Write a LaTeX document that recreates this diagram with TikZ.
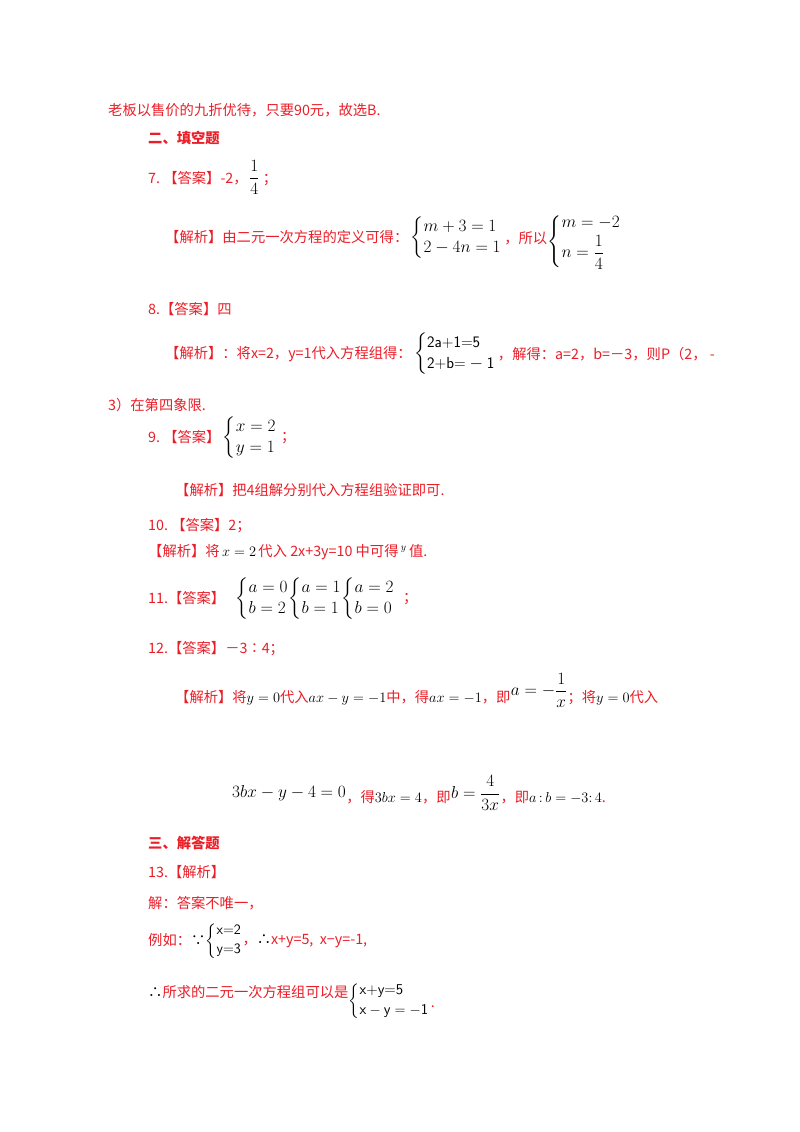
\documentclass[tikz,border=0pt]{standalone}
\usepackage{amsmath}
\usepackage{fontspec}
\setmainfont{Noto Sans CJK SC}
\usetikzlibrary{positioning}
\definecolor{ansred}{RGB}{235,30,40}
\newcommand{\sys}[2]{\left\{\begin{array}{@{}l@{}}#1\\[2pt] #2\end{array}\right.}
\tikzset{x=1pt, y=-1pt}
\tikzset{ln/.style={anchor=base west,inner sep=0pt,text=ansred,font=\fontsize{14.3}{17}\selectfont}}
\tikzset{mth/.style={anchor=base west,inner sep=0pt,text=black,font=\fontsize{16}{19}\selectfont}}
\begin{document}
\begin{tikzpicture}
\useasboundingbox[fill=white] (0,0) rectangle (800,1132);
\node[ln] (l1) at (108,115) {老板以售价的九折优待，只要90元，故选B.};
\node[ln,font=\fontsize{14.3}{17}\bfseries] (s2) at (148,143) {二、填空题};
% 7
\node[ln] (q7) at (148,183) {7.\ 【答案】-2，};
\node[mth,right=1pt of q7.base east,anchor=base west] (f7) {$\dfrac{1}{4}$};
\node[ln,right=3pt of f7.base east,anchor=base west] {；};
\node[ln] (j7) at (165,242) {【解析】由二元一次方程的定义可得：};
\node[mth,right=2pt of j7.base east,anchor=west,yshift=4pt] (c7a) {$\sys{m+3=1}{2-4n=1}$};
\node[ln,right=2pt of c7a.east,anchor=west] (s7) {，所以};
\node[mth,right=0pt of s7.east,anchor=west,yshift=-4pt] {$\sys{m=-2}{n=\dfrac{1}{4}}$};
% 8
\node[ln] (q8) at (148,314) {8.【答案】四};
\node[ln] (j8) at (165,358) {【解析】：将x=2，y=1代入方程组得：};
\node[mth,right=2pt of j8.base east,anchor=west,yshift=4pt,font=\fontsize{16}{19}\sffamily] (c8) {$\sys{\text{2a+1=5}}{\text{2+b=}-\text{1}}$};
\node[ln,right=2pt of c8.east,anchor=west] {，解得：a=2，b=－3，则P（2，\ -};
\node[ln] (l8b) at (108,410) {3）在第四象限.};
% 9
\node[ln] (q9) at (148,442) {9.\ 【答案】};
\node[mth,right=2pt of q9.base east,anchor=west,yshift=4pt] (c9) {$\sys{x=2}{y=1}$};
\node[ln,right=4pt of c9.east,anchor=west] {；};
\node[ln] (j9) at (175,495) {【解析】把4组解分别代入方程组验证即可.};
% 10
\node[ln] (q10) at (148,530) {10.\ 【答案】2；};
\node[ln] (j10) at (148,556) {【解析】将\,\textcolor{black}{$x=2$}\,代入 2x+3y=10 中可得\,\textcolor{black}{$^{y}$}\,值.};
% 11
\node[ln] (q11) at (148,603) {11.【答案】};
\node[mth,right=10pt of q11.base east,anchor=west,yshift=4pt] (c11) {$\sys{a=0}{b=2}\!\sys{a=1}{b=1}\!\sys{a=2}{b=0}$};
\node[ln,right=8pt of c11.east,anchor=west] {；};
% 12
\node[ln] (q12) at (148,653) {12.【答案】－3∶4；};
\node[ln] (j12) at (175,702) {【解析】将\textcolor{black}{$y=0$}代入\textcolor{black}{$ax-y=-1$}中，得\textcolor{black}{$ax=-1$}，即};
\node[mth,right=0pt of j12.base east,anchor=south west,yshift=-6pt] (a12) {$a=-\dfrac{1}{x}$};
\node[ln,right=0pt of a12.south east,anchor=base west,yshift=6pt] {；将\textcolor{black}{$y=0$}代入};
\node[mth] (e12) at (232,797) {$3bx-y-4=0$};
\node[ln,right=0pt of e12.base east] (t12) {，得\textcolor{black}{$3bx=4$}，即};
\node[mth,right=0pt of t12.base east,anchor=south west,yshift=-8pt] (b12) {$b=\dfrac{4}{3x}$};
\node[ln,right=0pt of b12.south east,anchor=base west,yshift=8pt] {，即\textcolor{black}{$a\,{:}\,b=-3{:}\,4$}.};
% 13
\node[ln,font=\fontsize{14.3}{17}\bfseries] (s3) at (148,848) {三、解答题};
\node[ln] (q13) at (148,877) {13.【解析】};
\node[ln] (j13) at (148,908) {解：答案不唯一，};
\node[ln] (e13) at (148,945) {例如：\textcolor{black}{∵}};
\node[mth,right=0pt of e13.base east,anchor=west,yshift=4pt,font=\fontsize{14.3}{17}\sffamily] (c13) {$\sys{\text{x=2}}{\text{y=3}}$};
\node[ln,right=0pt of c13.east,anchor=west] {，\textcolor{black}{∴}x+y=5,\ \ x−y=-1,};
\node[ln] (k13) at (148,997) {\textcolor{black}{∴}所求的二元一次方程组可以是};
\node[mth,right=0pt of k13.base east,anchor=west,yshift=-4pt,font=\fontsize{15}{18}\sffamily] (d13) {$\sys{\text{x+y=5}}{\text{x}-\text{y}=-\text{1}}$};
\node[ln,right=1pt of d13.east,anchor=west,yshift=-6pt] {.};
\end{tikzpicture}
\end{document}
